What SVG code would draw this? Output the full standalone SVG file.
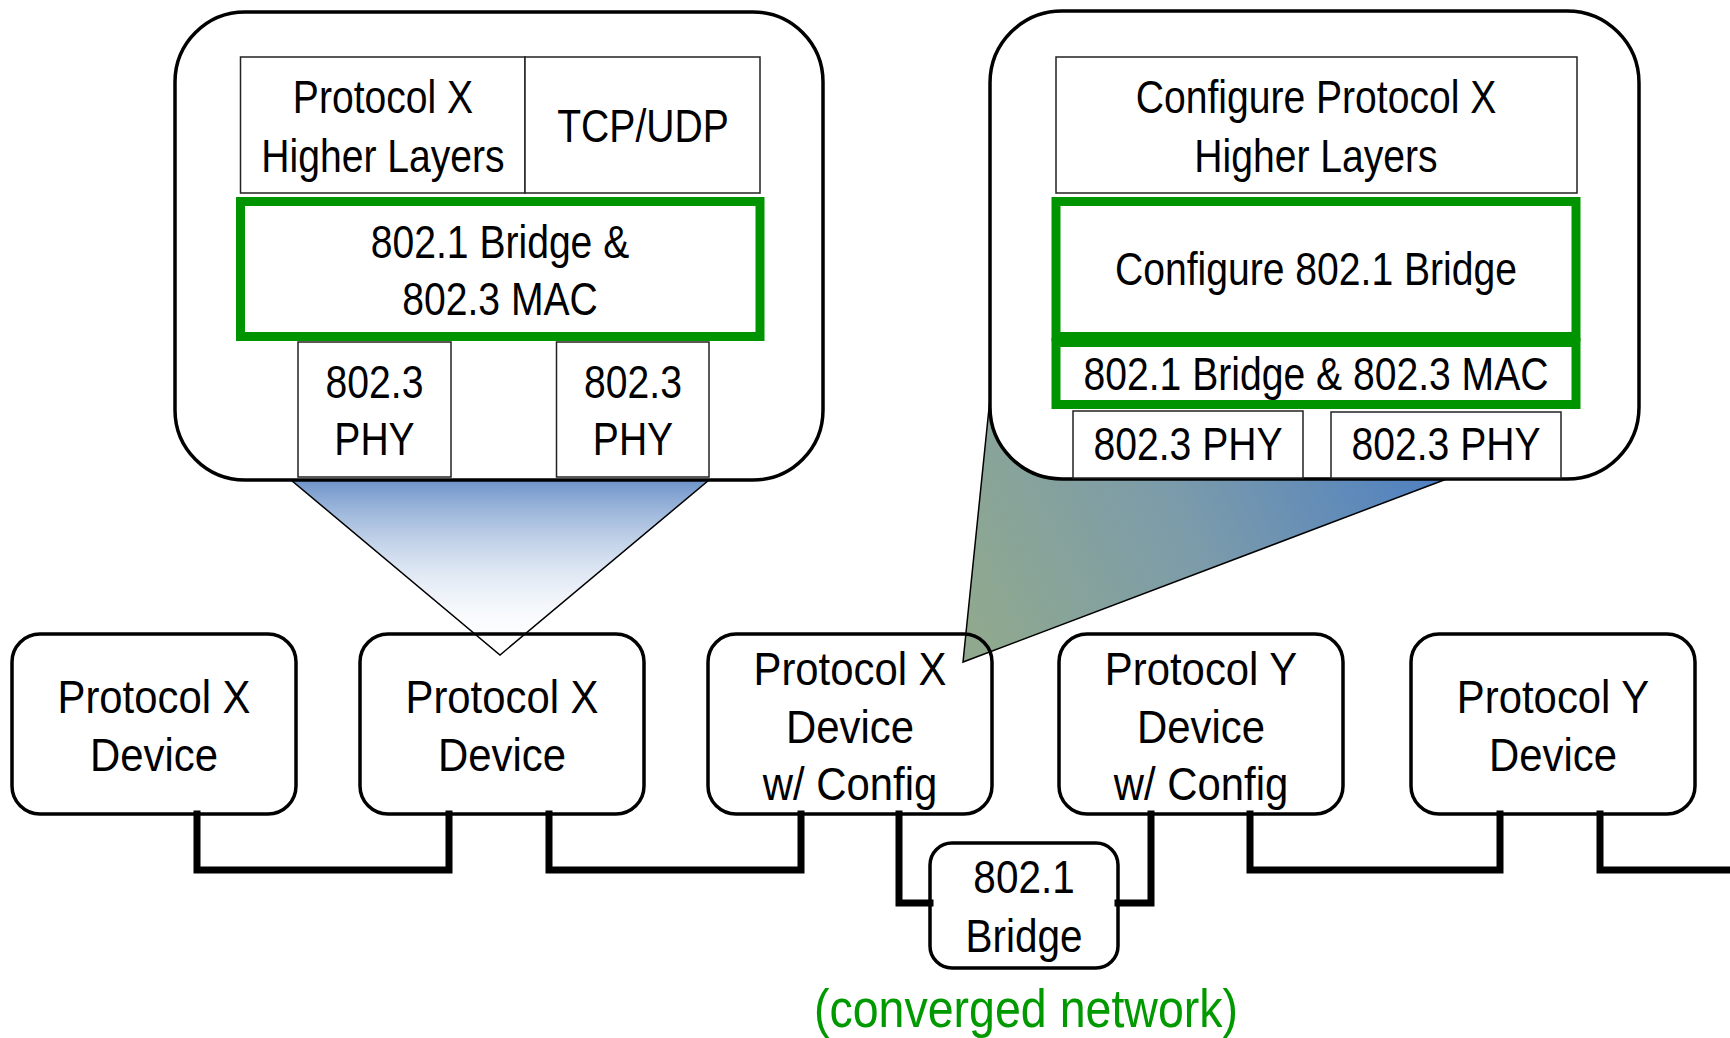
<svg xmlns="http://www.w3.org/2000/svg" width="1730" height="1038" viewBox="0 0 1730 1038">
<style>
text{font-family:"Liberation Sans",Arial,sans-serif;font-size:46px;fill:#000;text-anchor:middle}
.callout{fill:#fff;stroke:#000;stroke-width:3.5}
.layer{fill:#fff;stroke:#222;stroke-width:1.5}
.green{fill:none;stroke:#009400;stroke-width:9}
.dev{fill:none;stroke:#000;stroke-width:3.5}
.wire{fill:none;stroke:#000;stroke-width:7;stroke-linejoin:miter;stroke-linecap:square}
.ptr{stroke:#000;stroke-width:1.5}
.gtext{fill:#009900;font-size:53px}
</style>
<defs>
<linearGradient id="gLeft" x1="0" y1="0" x2="0" y2="1">
<stop offset="0" stop-color="#6e94ca"/>
<stop offset="1" stop-color="#ffffff" stop-opacity="0"/>
</linearGradient>
<linearGradient id="gRight" gradientUnits="userSpaceOnUse" x1="975" y1="640" x2="1420" y2="430">
<stop offset="0" stop-color="#90a98e"/>
<stop offset="0.5" stop-color="#7b9bab"/>
<stop offset="1" stop-color="#4f80c2"/>
</linearGradient>
</defs>

<g id="pointers">
<polygon id="pointer-left" class="ptr" fill="url(#gLeft)" points="291,480 709,480 500,655"/>
<polygon id="pointer-right" class="ptr" fill="url(#gRight)" points="963,662 996,340 1444,480"/>
</g>

<g id="callout-left">
<rect class="callout" x="175" y="12" width="648" height="468" rx="70"/>
<rect class="layer" x="240.5" y="57" width="284.5" height="136"/>
<rect class="layer" x="525" y="57" width="235" height="136"/>
<text transform="matrix(0.85 0 0 1 383 0)" y="113">Protocol X</text>
<text transform="matrix(0.85 0 0 1 383 0)" y="172">Higher Layers</text>
<text transform="matrix(0.85 0 0 1 643 0)" y="142">TCP/UDP</text>
<rect class="green" x="240.5" y="201.5" width="519.5" height="135"/>
<text transform="matrix(0.85 0 0 1 500 0)" y="258">802.1 Bridge &amp;</text>
<text transform="matrix(0.85 0 0 1 500 0)" y="315">802.3 MAC</text>
<rect class="layer" x="298" y="342" width="153" height="135"/>
<rect class="layer" x="556.5" y="342" width="152.5" height="135"/>
<text transform="matrix(0.85 0 0 1 374.5 0)" y="398">802.3</text>
<text transform="matrix(0.85 0 0 1 374.5 0)" y="455">PHY</text>
<text transform="matrix(0.85 0 0 1 633 0)" y="398">802.3</text>
<text transform="matrix(0.85 0 0 1 633 0)" y="455">PHY</text>
</g>

<g id="callout-right">
<rect class="callout" x="990" y="11" width="649" height="468" rx="72"/>
<rect class="layer" x="1056" y="57" width="521" height="136"/>
<text transform="matrix(0.85 0 0 1 1316 0)" y="113">Configure Protocol X</text>
<text transform="matrix(0.85 0 0 1 1316 0)" y="172">Higher Layers</text>
<rect class="green" x="1056" y="201.5" width="520" height="135"/>
<text transform="matrix(0.85 0 0 1 1316 0)" y="285">Configure 802.1 Bridge</text>
<rect class="green" x="1056" y="342.5" width="520" height="62"/>
<text transform="matrix(0.85 0 0 1 1316 0)" y="390">802.1 Bridge &amp; 802.3 MAC</text>
<rect class="layer" x="1073" y="411" width="230" height="67"/>
<rect class="layer" x="1331" y="412" width="230" height="66"/>
<text transform="matrix(0.85 0 0 1 1188 0)" y="460">802.3 PHY</text>
<text transform="matrix(0.85 0 0 1 1446 0)" y="460">802.3 PHY</text>
</g>

<g id="connectors">
<polyline class="wire" points="197,814 197,870 449,870 449,814"/>
<polyline class="wire" points="549,814 549,870 801,870 801,814"/>
<polyline class="wire" points="899,814 899,903 930,903"/>
<polyline class="wire" points="1118,903 1151,903 1151,814"/>
<polyline class="wire" points="1250,814 1250,870 1500,870 1500,814"/>
<polyline class="wire" points="1600,814 1600,870 1730,870"/>
</g>

<g id="device-x1">
<rect class="dev" x="12" y="634" width="284" height="180" rx="28"/>
<text transform="matrix(0.91 0 0 1 154 0)" y="713">Protocol X</text>
<text transform="matrix(0.91 0 0 1 154 0)" y="771">Device</text>
</g>
<g id="device-x2">
<rect class="dev" x="360" y="634" width="284" height="180" rx="28"/>
<text transform="matrix(0.91 0 0 1 502 0)" y="713">Protocol X</text>
<text transform="matrix(0.91 0 0 1 502 0)" y="771">Device</text>
</g>
<g id="device-x3-config">
<rect class="dev" x="708" y="634" width="284" height="180" rx="28"/>
<text transform="matrix(0.91 0 0 1 850 0)" y="685">Protocol X</text>
<text transform="matrix(0.91 0 0 1 850 0)" y="743">Device</text>
<text transform="matrix(0.91 0 0 1 850 0)" y="800">w/ Config</text>
</g>
<g id="device-y1-config">
<rect class="dev" x="1059" y="634" width="284" height="180" rx="28"/>
<text transform="matrix(0.91 0 0 1 1201 0)" y="685">Protocol Y</text>
<text transform="matrix(0.91 0 0 1 1201 0)" y="743">Device</text>
<text transform="matrix(0.91 0 0 1 1201 0)" y="800">w/ Config</text>
</g>
<g id="device-y2">
<rect class="dev" x="1411" y="634" width="284" height="180" rx="28"/>
<text transform="matrix(0.91 0 0 1 1553 0)" y="713">Protocol Y</text>
<text transform="matrix(0.91 0 0 1 1553 0)" y="771">Device</text>
</g>
<g id="bridge">
<rect class="dev" x="930" y="843" width="188" height="125" rx="22" fill="#fff"/>
<text transform="matrix(0.88 0 0 1 1024 0)" y="893">802.1</text>
<text transform="matrix(0.88 0 0 1 1024 0)" y="952">Bridge</text>
</g>
<g id="label">
<text class="gtext" x="1026" y="1027" textLength="424" lengthAdjust="spacingAndGlyphs">(converged network)</text>
</g>
</svg>
